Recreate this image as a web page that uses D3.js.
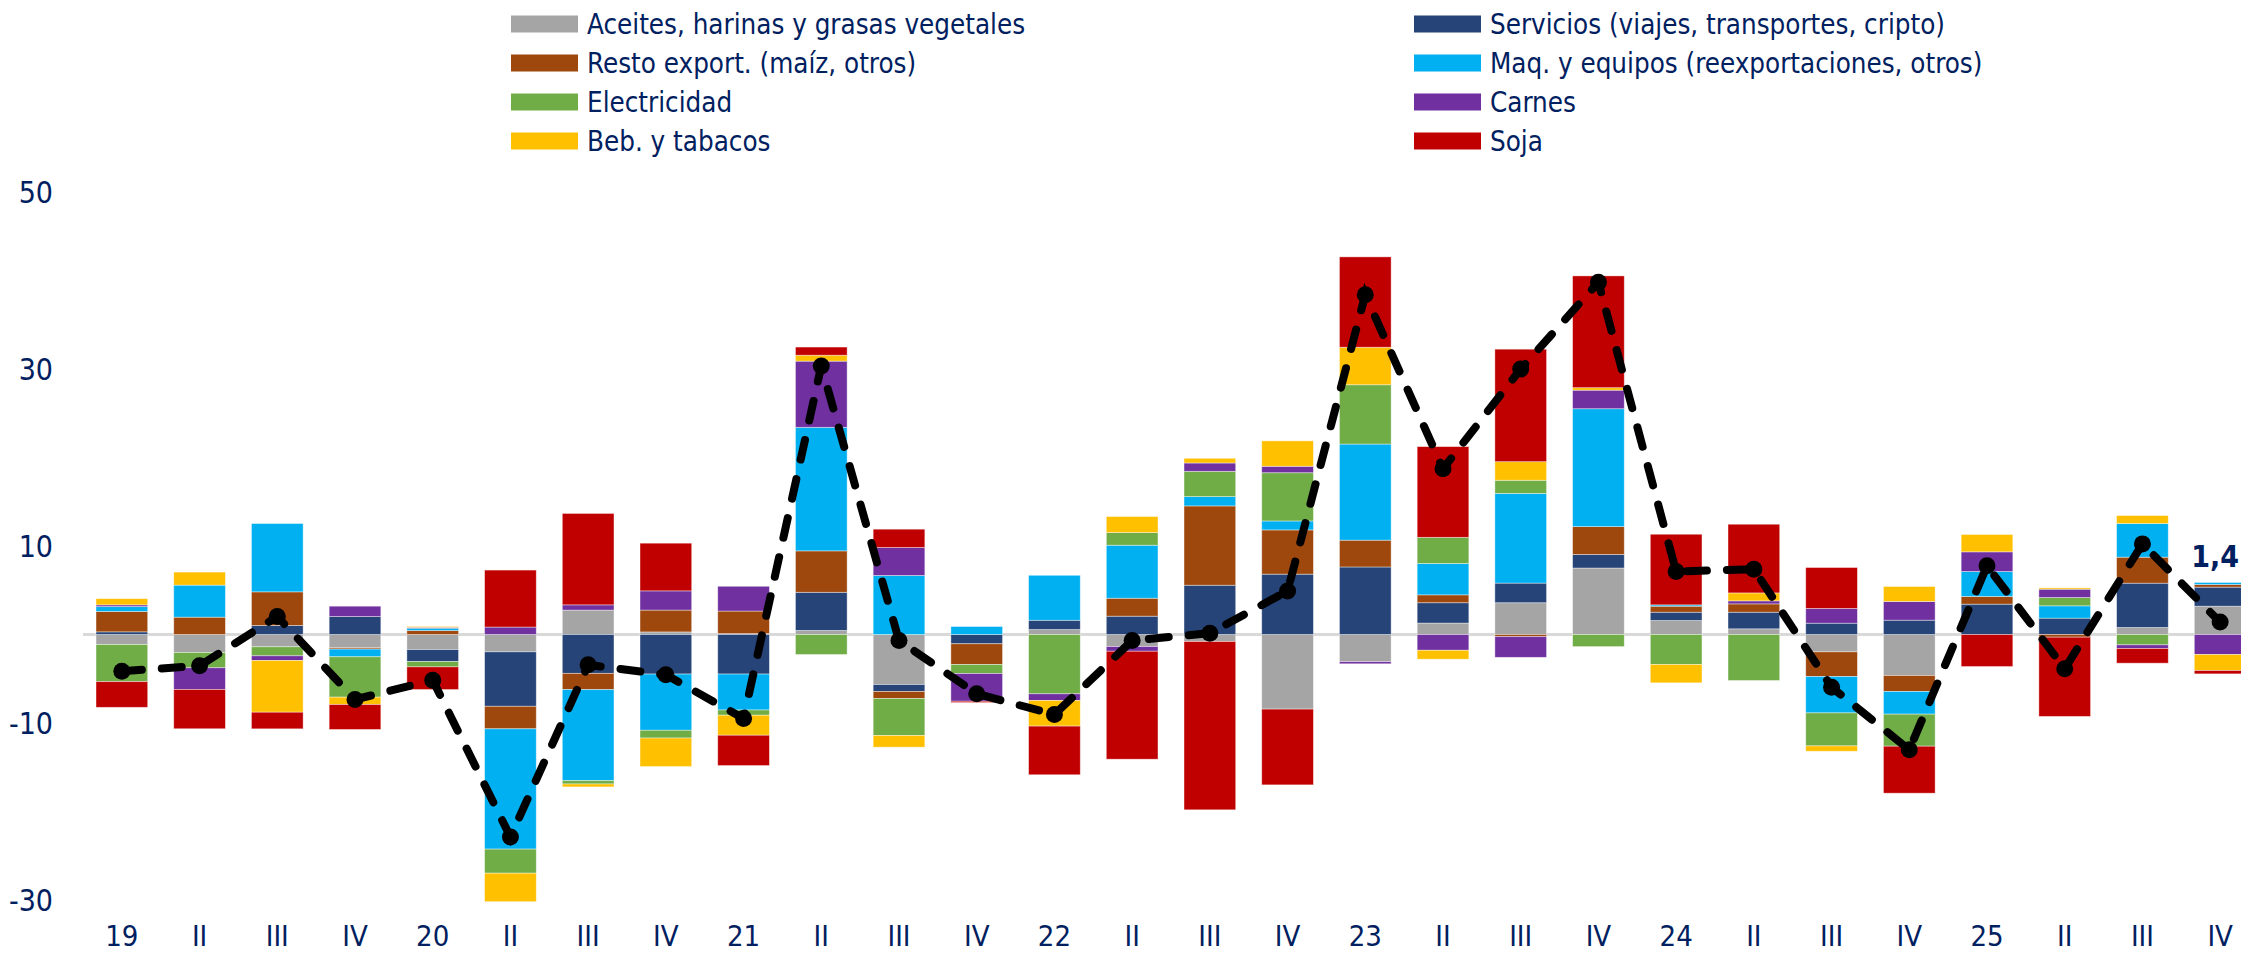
<!DOCTYPE html>
<html>
<head>
<meta charset="utf-8">
<script src="https://cdn.jsdelivr.net/npm/d3@7"></script>
<style>
  body { margin: 0; background: #fff; }
  svg text { font-family: "Gill Sans MT", "Gill Sans", "Liberation Sans Narrow", "DejaVu Sans Condensed", sans-serif; fill: #002060; }
</style>
</head>
<body>
<div class="graph"></div>
<script>
var quarters = ["19","II","III","IV","20","II","III","IV","21","II","III","IV","22","II","III","IV",
                "23","II","III","IV","24","II","III","IV","25","II","III","IV"];

var aceites     = [-1.13,-2.03,-1.39,-1.5,-1.7,-1.96,2.76,0.29,0.1,0.46,-5.65,0,0.56,-1.36,-0.79,-8.43,
                   -3.07,1.29,3.59,7.51,1.58,0.64,-1.96,-4.63,0,0,0.79,3.2];
var servicios   = [0.3,0,1.02,2.03,-1.36,-6.15,-4.39,-4.47,-4.47,4.31,-0.79,-1.05,1.05,2.07,5.57,6.82,
                   7.63,2.3,2.22,1.53,0.94,1.88,1.28,1.62,3.43,1.85,5.01,2.15];
var resto       = [2.3,1.96,3.8,-0.15,0.45,-2.55,-1.84,2.47,2.55,4.68,-0.79,-2.34,0,2.03,8.96,5.0,
                   3.03,0.89,-0.24,3.15,0.68,0.94,-2.79,-1.81,0.87,-0.3,2.94,0.3];
var maquinas    = [0.55,3.62,7.72,-0.87,0.26,-13.59,-10.28,-6.35,-4.06,13.96,6.67,0.9,5.08,5.99,1.05,1.01,
                   10.86,3.55,10.13,13.32,0.15,0,-4.11,-2.56,2.82,1.39,3.8,0.23];
var electricidad= [-4.2,-1.73,-1.02,-4.56,-0.6,-2.72,-0.38,-0.88,-0.59,-2.26,-4.18,-1.02,-6.7,1.43,2.86,5.45,
                   6.7,2.95,1.49,-1.37,-3.39,-5.2,-3.73,-3.62,0,0.94,-1.17,0];
var carnes      = [0.2,-2.45,-0.53,1.17,0.1,0.84,0.59,2.17,2.8,7.48,3.16,-3.13,-0.75,-0.53,0.94,0.73,
                   -0.24,-1.78,-2.34,2.1,0,0.34,1.66,2.11,2.22,0.94,-0.41,-2.26];
var bebidas     = [0.7,1.47,-5.84,-0.83,0.1,-3.22,-0.33,-3.22,-2.26,0.67,-1.32,0,-2.9,1.81,0.53,2.87,
                   4.24,-1.01,2.1,0.28,-2.07,0.9,-0.6,1.69,1.96,0.15,0.9,-1.81];
var soja        = [-2.9,-4.44,-1.88,-2.82,-2.56,6.44,10.33,5.39,-3.43,0.92,2.07,-0.15,-5.5,-12.2,-19.02,-8.56,
                   10.21,10.25,12.71,12.63,7.98,7.76,4.63,-5.31,-3.62,-8.96,-1.66,-0.38];
var total       = [-4.14,-3.54,2.03,-7.34,-5.16,-22.87,-3.43,-4.56,-9.49,30.35,-0.68,-6.7,-9.04,-0.68,0.15,4.92,
                   38.4,18.72,30.0,39.8,7.12,7.38,-5.95,-13.03,7.76,-3.88,10.24,1.4];

var seriesNames = ["Aceites, harinas y grasas vegetales","Servicios (viajes, transportes, cripto)",
                   "Resto export. (maíz, otros)","Maq. y equipos (reexportaciones, otros)",
                   "Electricidad","Carnes","Beb. y tabacos","Soja"];
var seriesColors = ["#A5A5A5","#264478","#9E480E","#00B0F0","#70AD47","#7030A0","#FFC000","#C00000"];
var yTicks = [-30,-10,10,30,50];
var lastLabel = "1,4";

var width = 2241, height = 955;
var seriesValues = [aceites, servicios, resto, maquinas, electricidad, carnes, bebidas, soja];

var rows = quarters.map(function(q, i) {
  var row = {idx: i};
  seriesNames.forEach(function(name, k) { row[name] = seriesValues[k][i]; });
  return row;
});

var x = d3.scaleBand()
    .domain(d3.range(quarters.length))
    .range([83, 2259])
    .paddingInner(0.335)
    .paddingOuter(0.1675);

var y = d3.scaleLinear()
    .domain([-30, 50])
    .range([900, 192]);

var color = d3.scaleOrdinal().domain(seriesNames).range(seriesColors);

var svg = d3.select(".graph").append("svg")
    .attr("width", width)
    .attr("height", height);

// diverging stack: positives up, negatives down, in series order
var stacked = d3.stack()
    .keys(seriesNames)
    .offset(d3.stackOffsetDiverging)(rows);

svg.append("line")
    .attr("x1", 83).attr("x2", width)
    .attr("y1", y(0)).attr("y2", y(0))
    .style("stroke", "#D9D9D9")
    .style("stroke-width", 3);

svg.selectAll(".serie")
    .data(stacked)
  .enter().append("g")
    .attr("class", "serie")
    .style("fill", function(d) { return color(d.key); })
  .selectAll("rect")
    .data(function(d) { return d; })
  .enter().append("rect")
    .attr("x", function(d) { return x(d.data.idx); })
    .attr("width", x.bandwidth())
    .attr("y", function(d) { return y(Math.max(d[0], d[1])); })
    .attr("height", function(d) { return Math.abs(y(d[0]) - y(d[1])); })
    .style("stroke", "#fff")
    .style("stroke-opacity", 0.5)
    .style("stroke-width", 0.8);

var line = d3.line()
    .x(function(d, i) { return x(i) + x.bandwidth() / 2; })
    .y(function(d) { return y(d); });

svg.append("path")
    .datum(total)
    .attr("d", line)
    .style("fill", "none")
    .style("stroke", "#000")
    .style("stroke-width", 8)
    .style("stroke-linecap", "round")
    .style("stroke-dasharray", "20,20");

svg.selectAll(".dot")
    .data(total)
  .enter().append("circle")
    .attr("class", "dot")
    .attr("cx", function(d, i) { return x(i) + x.bandwidth() / 2; })
    .attr("cy", function(d) { return y(d); })
    .attr("r", 8.5)
    .style("fill", "#000");

// label of last value, sits at the right edge
svg.append("text")
    .attr("x", width - 2)
    .attr("y", y(total[total.length - 1]) - 55)
    .attr("text-anchor", "end")
    .style("font-size", "30px")
    .style("font-weight", "bold")
    .text(lastLabel);

// y labels, no axis line
svg.selectAll(".ytick")
    .data(yTicks)
  .enter().append("text")
    .attr("class", "ytick")
    .attr("x", 53)
    .attr("y", function(d) { return y(d); })
    .attr("dy", ".35em")
    .attr("text-anchor", "end")
    .style("font-size", "30px")
    .text(function(d) { return d; });

svg.selectAll(".xtick")
    .data(quarters)
  .enter().append("text")
    .attr("class", "xtick")
    .attr("x", function(d, i) { return x(i) + x.bandwidth() / 2; })
    .attr("y", 946)
    .attr("text-anchor", "middle")
    .style("font-size", "29px")
    .text(function(d) { return d; });

var legend = svg.selectAll(".legend")
    .data(seriesNames)
  .enter().append("g")
    .attr("class", "legend")
    .attr("transform", function(d, i) {
      var col = i % 2, row = Math.floor(i / 2);
      return "translate(" + (col ? 1414 : 511) + "," + (24 + row * 39) + ")";
    });

legend.append("rect")
    .attr("x", 0)
    .attr("y", -8.5)
    .attr("width", 67)
    .attr("height", 17)
    .style("fill", function(d) { return color(d); });

legend.append("text")
    .attr("x", 76)
    .attr("y", 0)
    .attr("dy", ".35em")
    .style("font-size", "27.5px")
    .text(function(d) { return d; });
</script>
</body>
</html>
